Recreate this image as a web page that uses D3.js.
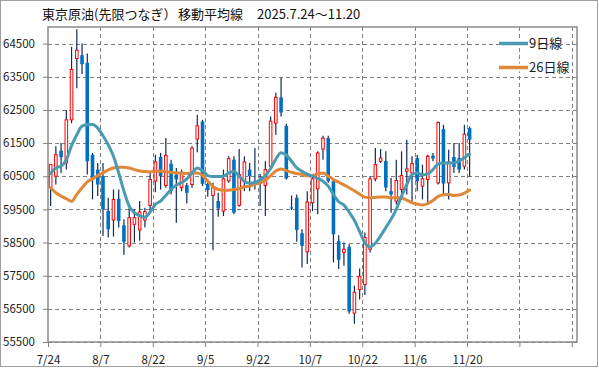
<!DOCTYPE html>
<html><head><meta charset="utf-8">
<script src="https://cdn.jsdelivr.net/npm/d3@7"></script>
<style>
html,body{margin:0;padding:0;background:#fff;}
svg{display:block;font-family:"Noto Sans CJK JP","Noto Sans",sans-serif;}
</style></head>
<body>
<svg id="chart" width="599" height="369"></svg>
<script>
const dates = ["7/24","7/25","7/28","7/29","7/30","7/31","8/1","8/4","8/5","8/6",
"8/7","8/8","8/12","8/13","8/14","8/15","8/18","8/19","8/20","8/21",
"8/22","8/25","8/26","8/27","8/28","8/29","9/1","9/2","9/3","9/4",
"9/5","9/8","9/9","9/10","9/11","9/12","9/16","9/17","9/18","9/19",
"9/22","9/24","9/25","9/26","9/29","9/30","10/1","10/2","10/3","10/6",
"10/7","10/8","10/9","10/10","10/14","10/15","10/16","10/17","10/20","10/21",
"10/22","10/23","10/24","10/27","10/28","10/29","10/30","10/31","11/4","11/5",
"11/6","11/7","11/10","11/11","11/12","11/13","11/14","11/17","11/18","11/19","11/20"];

const open = [60150,60500,61270,60900,62200,64050,64150,63920,61150,60700,
60500,59450,59180,59820,59020,58400,59050,58880,59180,59620,
60350,61080,60220,60880,60550,60150,60230,60250,61620,62150,
60270,59920,59750,59450,60360,61000,59620,60380,60700,60350,
60300,60220,60800,62100,62880,62020,59560,59850,58780,58220,
59700,60120,61320,61650,60350,58550,58200,58370,56370,57080,
57230,58300,60420,60950,60960,60050,59750,60100,60650,60600,
61050,60200,60400,61120,60300,61920,60300,61080,61050,60800,61950];
const high = [60850,61400,61500,62500,64400,64930,64500,64200,61200,60900,
60900,59850,60100,60100,59200,59550,59500,59750,59550,60600,
61150,61200,61650,61000,60750,60700,60300,61400,62350,62200,
60400,60300,60000,60700,61100,61100,61320,61100,60900,61350,
60570,60950,62300,63020,63480,62080,59920,59950,58900,60050,
60500,61250,61720,61720,60400,58720,58500,58450,57200,57720,
58800,60500,61350,61320,61250,60450,61000,61250,61600,61100,
61150,60850,61150,61200,62150,62050,61300,61500,61500,62050,62000];
const low = [59600,60250,60600,60700,62100,63150,63580,60550,59800,59900,
58700,58650,58680,58950,58130,58350,58500,58550,58950,59400,
60020,60100,60150,59950,59100,60050,59680,60150,61220,60200,
59880,58270,59280,59300,60300,59350,59580,60050,60050,60100,
59600,59300,60780,61750,62300,60400,59480,58520,57750,57850,
59450,59350,61000,60300,57900,57700,57800,56350,56050,56780,
56920,58200,60350,60900,60050,59400,59650,59800,59950,59750,
60050,59800,59700,60950,60250,59950,59800,60600,60600,60700,60480];
const close = [60850,61150,61070,62200,63720,64300,63880,60950,60400,60250,
59500,58900,59800,59150,58520,59250,59250,59420,59430,60400,
60930,60500,61130,60050,60400,60600,60000,61350,62020,60270,
60080,60150,59530,60420,61030,59400,60550,60930,60500,60300,
60350,60700,62160,62880,62420,60430,59540,58880,58400,59720,
60420,61200,61650,60350,58750,57980,58300,56420,57000,57480,
58650,60420,60850,61050,60160,59950,60370,60520,60720,60880,
60350,60420,61100,61030,62120,60280,60930,60780,60700,61770,61600];

const ma9 = [60580,60750,60800,61000,61420,61750,62010,62050,62060,61950,
61720,61450,61100,60600,60050,59600,59400,59310,59260,59420,
59650,59750,59920,60100,60230,60310,60420,60600,60750,60670,
60520,60490,60490,60500,60600,60650,60500,60340,60290,60310,
60390,60510,60730,61020,61210,61140,60950,60750,60650,60560,
60500,60430,60350,60200,59950,59730,59630,59420,59170,58830,
58500,58370,58480,58700,58950,59200,59500,59900,60250,60550,
60600,60540,60570,60700,60870,60900,60900,60900,60960,61060,61170];
const ma26 = [60150,60000,59900,59820,59740,59950,60150,60330,60420,60520,
60600,60690,60750,60770,60770,60750,60700,60660,60640,60630,
60650,60660,60630,60620,60600,60600,60580,60590,60600,60530,
60350,60190,60100,60080,60080,60100,60120,60180,60200,60260,
60300,60380,60520,60660,60720,60670,60620,60580,60550,60510,
60520,60570,60600,60500,60400,60320,60240,60150,60060,59960,
59870,59850,59860,59870,59870,59850,59850,59840,59780,59700,
59660,59630,59670,59770,59890,59940,59950,59920,59930,59990,60080];

const yTicks = [55500,56500,57500,58500,59500,60500,61500,62500,63500,64500];
const xTickIdx = [0,10,20,30,40,50,60,70,80,90,100];
const titleParts = ["東京原油(先限つなぎ）","移動平均線","2025.7.24～11.20"];
const seriesNames = ["9日線","26日線"];
const colors = {ma9:"#4a9bb1", ma26:"#e0883a", up:"#ff0000", down:"#0070c0", wick:"#0d2a5c", grid:"#808080"};

const svg = d3.select("#chart");
const L = 48, R = 577, T = 27, B = 342;
const x = d3.scaleLinear().domain([0, 101]).range([L, R]);
const y = d3.scaleLinear().domain([55500, 65000]).range([B, T]);

// outer frame
svg.append("rect").attr("x",0.5).attr("y",0.5).attr("width",597).attr("height",366)
  .attr("fill","#fff").attr("stroke","#a0a0a0").attr("stroke-width",1);

// plot bg
svg.append("rect").attr("x",L).attr("y",T).attr("width",R-L).attr("height",B-T).attr("fill","#fff");

// grid
const g = svg.append("g");
g.selectAll("line.hg").data(yTicks).join("line")
  .attr("x1",L).attr("x2",R).attr("y1",d=>Math.round(y(d))+0.5).attr("y2",d=>Math.round(y(d))+0.5)
  .attr("stroke",colors.grid).attr("stroke-dasharray","4,3").attr("stroke-width",1);
g.selectAll("line.vg").data(xTickIdx.filter(d=>d>0)).join("line")
  .attr("y1",T).attr("y2",B).attr("x1",d=>Math.round(x(d))+0.5).attr("x2",d=>Math.round(x(d))+0.5)
  .attr("stroke",colors.grid).attr("stroke-dasharray","4,3").attr("stroke-width",1);

// axes
const ya = svg.append("g").attr("transform",`translate(${L},0)`)
  .call(d3.axisLeft(y).tickValues(yTicks).tickSize(5).tickPadding(8).tickFormat(d3.format("d")));
ya.select(".domain").remove();
ya.selectAll("line").attr("stroke","#808080");
ya.selectAll("text").attr("font-size","11.5px").attr("fill","#222")
  .attr("font-family","'Noto Sans CJK JP',sans-serif");

const xa = svg.append("g").attr("transform",`translate(0,${B})`)
  .call(d3.axisBottom(x).tickValues(xTickIdx).tickSize(5).tickPadding(9).tickFormat(k => k < dates.length ? dates[k] : ""));
xa.select(".domain").remove();
xa.selectAll("line").attr("stroke","#808080");
xa.selectAll("text").attr("font-size","11.5px").attr("fill","#222")
  .attr("font-family","'Noto Sans CJK JP',sans-serif");

// plot border
svg.append("rect").attr("x",L).attr("y",T).attr("width",R-L).attr("height",B-T)
  .attr("fill","none").attr("stroke","#8a8a8a").attr("stroke-width",1.5);

// candles
const idx = d3.range(close.length);
const cg = svg.append("g");
cg.selectAll("line.wick").data(idx).join("line")
  .attr("x1",i=>x(i+0.5)).attr("x2",i=>x(i+0.5))
  .attr("y1",i=>y(high[i])).attr("y2",i=>y(low[i]))
  .attr("stroke",colors.wick).attr("stroke-width",1.2);
const bw = 3.6;
cg.selectAll("rect.body").data(idx).join("rect")
  .attr("x",i=> close[i]>=open[i] ? x(i+0.5)-bw/2+0.5 : x(i+0.5)-bw/2)
  .attr("width",i=> close[i]>=open[i] ? bw-1 : bw)
  .attr("y",i=>y(Math.max(open[i],close[i])))
  .attr("height",i=>Math.max(1, Math.abs(y(open[i])-y(close[i]))))
  .attr("fill",i=> close[i]>=open[i] ? "#fff" : colors.down)
  .attr("stroke",i=> close[i]>=open[i] ? colors.up : "none")
  .attr("stroke-width",1);

// moving averages
const line = arr => d3.line().x((d,i)=>x(i+0.5)).y(d=>y(d)).curve(d3.curveMonotoneX)(arr);
svg.append("path").attr("d",line(ma26)).attr("fill","none").attr("stroke",colors.ma26)
  .attr("stroke-width",3).attr("stroke-linejoin","round").attr("stroke-linecap","round");
svg.append("path").attr("d",line(ma9)).attr("fill","none").attr("stroke",colors.ma9)
  .attr("stroke-width",3).attr("stroke-linejoin","round").attr("stroke-linecap","round");

// legend
const leg = [{n:seriesNames[0],c:colors.ma9,y:43.5},{n:seriesNames[1],c:colors.ma26,y:67.5}];
leg.forEach(l=>{
  svg.append("line").attr("x1",499).attr("x2",528).attr("y1",l.y).attr("y2",l.y)
    .attr("stroke","#fff").attr("stroke-width",8);
  svg.append("line").attr("x1",499).attr("x2",528).attr("y1",l.y).attr("y2",l.y)
    .attr("stroke",l.c).attr("stroke-width",3.5);
  svg.append("text").attr("x",529).attr("y",l.y+4.5).attr("font-size","13px").attr("fill","#222").text(l.n);
});

// title
const tt = svg.append("text").attr("y",19).attr("font-size","13px").attr("fill","#111");
[42,178,257].forEach((px,k)=> tt.append("tspan").attr("x",px).text(titleParts[k]));
</script>
</body></html>
